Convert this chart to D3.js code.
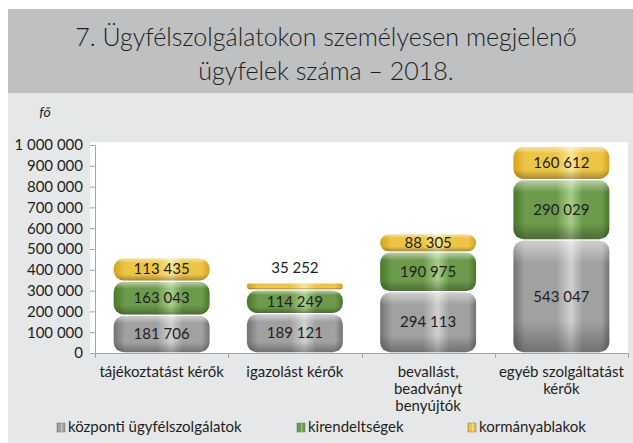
<!DOCTYPE html>
<html>
<head>
<meta charset="utf-8">
<script src="https://cdn.jsdelivr.net/npm/d3@7"></script>
<style>
  body { margin: 0; background: #fff; }
  svg text { font-family: "Lato", "Open Sans", sans-serif; }
</style>
</head>
<body>
<div id="vis"></div>
<script>
const categories = [
    ["tájékoztatást kérők"],
    ["igazolást kérők"],
    ["bevallást,", "beadványt", "benyújtók"],
    ["egyéb szolgáltatást", "kérők"]
];
const seriesNames = ["központi ügyfélszolgálatok", "kirendeltségek", "kormányablakok"];
const kozponti = [181706, 189121, 294113, 543047];
const kirendeltsegek = [163043, 114249, 190975, 290029];
const kormanyablakok = [113435, 35252, 88305, 160612];
const yTicks = [0, 100000, 200000, 300000, 400000, 500000, 600000, 700000, 800000, 900000, 1000000];

const width = 633, height = 443;
const plot = { left: 95, right: 628, top: 142, bottom: 353 };

const huLocale = d3.formatLocale({ decimal: ",", thousands: " ", grouping: [3], currency: ["", ""] });
const fmt = huLocale.format(",d");

const svg = d3.select("#vis").append("svg")
    .attr("width", width)
    .attr("height", height);

// gradients for the cushion look
const palettes = [
    { id: "g0", edge: "#737373", mid: "#a1a1a1", light: "#d0d0d0" },
    { id: "g1", edge: "#487829", mid: "#6d9a4c", light: "#a8cd8a" },
    { id: "g2", edge: "#d5a11e", mid: "#ecc547", light: "#fbe592" }
];
const defs = svg.append("defs");
palettes.forEach(p => {
    const g = defs.append("linearGradient").attr("id", p.id).attr("x1", 0).attr("x2", 1).attr("y1", 0).attr("y2", 0);
    [[0, p.edge], [0.12, p.mid], [0.45, p.mid], [0.6, p.light], [0.72, p.mid], [0.92, p.mid], [1, p.edge]]
        .forEach(s => g.append("stop").attr("offset", s[0]).attr("stop-color", s[1]));
});
const shade = defs.append("linearGradient").attr("id", "shade").attr("x1", 0).attr("x2", 0).attr("y1", 0).attr("y2", 1);
[[0, "#fff", 0.5], [0.2, "#fff", 0.0], [0.72, "#000", 0.0], [1, "#000", 0.3]]
    .forEach(s => shade.append("stop").attr("offset", s[0]).attr("stop-color", s[1]).attr("stop-opacity", s[2]));

// backgrounds
svg.append("rect").attr("x", 8).attr("y", 9).attr("width", width - 8).attr("height", 84).attr("fill", "#bfc0c2");
svg.append("rect").attr("x", 8).attr("y", 93).attr("width", width - 8).attr("height", height - 93).attr("fill", "#e6e7e8");
svg.append("rect").attr("x", 90).attr("y", plot.top).attr("width", plot.right - 90).attr("height", plot.bottom - plot.top).attr("fill", "#fff");

// title
const title = svg.append("text").attr("text-anchor", "middle").attr("fill", "#1e1e1e")
    .style("font-size", "25px").style("font-weight", 300);
title.append("tspan").attr("x", 326).attr("y", 46).text("7. Ügyfélszolgálatokon személyesen megjelenő");
title.append("tspan").attr("x", 326).attr("y", 80).text("ügyfelek száma – 2018.");

svg.append("text").attr("x", 45).attr("y", 117).attr("text-anchor", "middle")
    .style("font-size", "14px").style("font-style", "italic").attr("fill", "#1e1e1e").text("fő");

const x = d3.scaleBand()
    .domain(d3.range(categories.length))
    .range([plot.left, plot.right])
    .paddingInner(0.28)
    .paddingOuter(0.14);

const y = d3.scaleLinear()
    .domain([0, 1000000])
    .range([plot.bottom, 145]);

// y axis
const yAxis = svg.append("g")
    .attr("transform", "translate(" + plot.left + ",0)")
    .call(d3.axisLeft(y).tickValues(yTicks).tickFormat(fmt).tickSize(5).tickPadding(7));
yAxis.select(".domain").attr("stroke", "#a6a6a6");
yAxis.selectAll(".tick line").attr("stroke", "#a6a6a6");
yAxis.selectAll("text").style("font-size", "15px").style("font-family", "Lato, sans-serif").attr("fill", "#1e1e1e");

// x axis baseline and separator ticks
const xg = svg.append("g");
xg.append("line").attr("x1", plot.left).attr("x2", plot.right).attr("y1", plot.bottom + 0.5).attr("y2", plot.bottom + 0.5).attr("stroke", "#a6a6a6");
const boundaries = d3.range(categories.length + 1).map(i => plot.left + i * x.step());
xg.selectAll(".sep").data(boundaries).enter().append("line")
    .attr("x1", d => Math.round(d) + 0.5).attr("x2", d => Math.round(d) + 0.5)
    .attr("y1", plot.bottom).attr("y2", plot.bottom + 5).attr("stroke", "#a6a6a6");

categories.forEach((lines, i) => {
    const t = svg.append("text").attr("text-anchor", "middle").attr("fill", "#1e1e1e").style("font-size", "15px");
    lines.forEach((l, j) => {
        t.append("tspan").attr("x", x(i) + x.bandwidth() / 2).attr("y", 377 + j * 17).text(l);
    });
});

// stacked segments
const series = [kozponti, kirendeltsegek, kormanyablakok];
const stacked = categories.map((c, i) => {
    let acc = 0;
    return series.map((s, k) => {
        const d = { i: i, k: k, v: s[i], y0: acc, y1: acc + s[i] };
        acc += s[i];
        return d;
    });
}).flat();

const seg = svg.append("g").selectAll("g").data(stacked).enter().append("g");
seg.each(function (d) {
    const g = d3.select(this);
    const top = y(d.y1) + 0.75, bot = y(d.y0) - 0.75;
    const h = Math.max(bot - top, 1);
    const r = Math.min(10, h / 2);
    g.append("rect").attr("x", x(d.i)).attr("y", top).attr("width", x.bandwidth()).attr("height", h)
        .attr("rx", r).attr("ry", r).attr("fill", "url(#" + palettes[d.k].id + ")");
    g.append("rect").attr("x", x(d.i)).attr("y", top).attr("width", x.bandwidth()).attr("height", h)
        .attr("rx", r).attr("ry", r).attr("fill", "url(#shade)");
});

seg.append("text")
    .attr("x", d => x(d.i) + x.bandwidth() / 2)
    .attr("y", d => {
        const h = y(d.y0) - y(d.y1);
        return h < 16 ? y(d.y1) - 10 : (y(d.y0) + y(d.y1)) / 2 + 5;
    })
    .attr("text-anchor", "middle")
    .attr("fill", "#1e1e1e")
    .style("font-size", "15px")
    .text(d => fmt(d.v));

// legend
const legendX = [57, 297, 468];
seriesNames.forEach((name, k) => {
    const g = svg.append("g").attr("transform", "translate(" + legendX[k] + ",423)");
    g.append("rect").attr("width", 8).attr("height", 9).attr("fill", "url(#" + palettes[k].id + ")").attr("stroke", "#777").attr("stroke-width", 0.5);
    g.append("text").attr("x", 11).attr("y", 9).attr("fill", "#1e1e1e").style("font-size", "15px").text(name);
});
</script>
</body>
</html>
